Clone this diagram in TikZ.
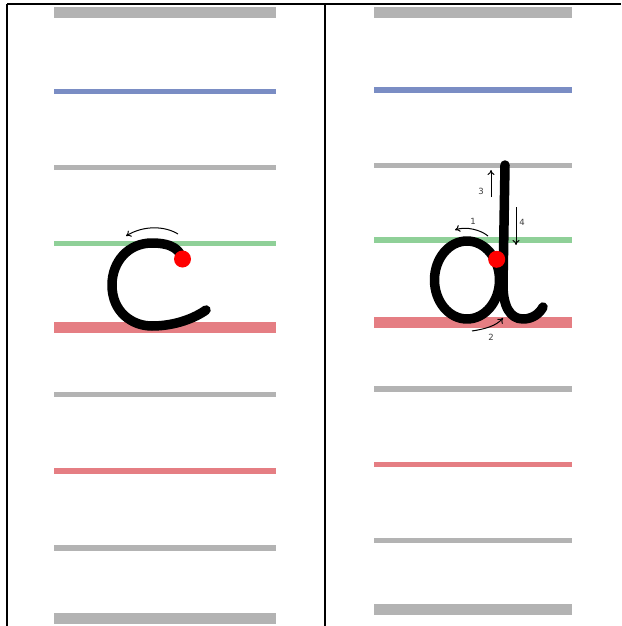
\documentclass[tikz,border=0pt]{standalone}
\usepackage{fontspec}
\setsansfont{DejaVu Sans}
\usetikzlibrary{arrows.meta}
\definecolor{lgray}{RGB}{179,179,179}
\definecolor{lblue}{RGB}{122,141,196}
\definecolor{lgreen}{RGB}{143,208,152}
\definecolor{lred}{RGB}{229,126,131}
\definecolor{txtgray}{RGB}{60,60,60}
\begin{document}
\begin{tikzpicture}[x=1pt,y=-1pt,
  thinrule/.style={line width=5.5pt},
  thickrule/.style={line width=11.5pt},
  frame/.style={line width=2pt,black},
  letter/.style={line width=9.5pt,black,line cap=round,line join=round},
  startdot/.style={circle,fill=red,inner sep=0pt,minimum size=17pt},
  hint/.style={line width=1pt,black,-{To[length=5pt,width=7pt]}},
  num/.style={font=\fontsize{8.5}{8.5}\sffamily,text=txtgray,inner sep=0pt}]
\useasboundingbox (0,0) rectangle (621,626);
% frame
\draw[frame] (7,4) -- (621,4);
\draw[frame] (7,4) -- (7,626);
\draw[frame] (325,4) -- (325,626);
% left panel rules
\draw[thickrule,lgray] (54,12.5) -- (276,12.5);
\draw[thinrule,lblue] (54,91.5) -- (276,91.5);
\draw[thinrule,lgray] (54,167.3) -- (276,167.3);
\draw[thinrule,lgreen] (54,243.5) -- (276,243.5);
\draw[thickrule,lred] (54,327.5) -- (276,327.5);
\draw[thinrule,lgray] (54,394.5) -- (276,394.5);
\draw[thinrule,lred] (54,471) -- (276,471);
\draw[thinrule,lgray] (54,548) -- (276,548);
\draw[thickrule,lgray] (54,618.3) -- (276,618.3);
% right panel rules
\draw[thickrule,lgray] (374,12.5) -- (572,12.5);
\draw[thinrule,lblue] (374,90) -- (572,90);
\draw[thinrule,lgray] (374,165.3) -- (572,165.3);
\draw[thinrule,lgreen] (374,239.8) -- (572,239.8);
\draw[thickrule,lred] (374,322.7) -- (572,322.7);
\draw[thinrule,lgray] (374,388.8) -- (572,388.8);
\draw[thinrule,lred] (374,464.5) -- (572,464.5);
\draw[thinrule,lgray] (374,540.5) -- (572,540.5);
\draw[thickrule,lgray] (374,609.3) -- (572,609.3);
% letter c
\draw[letter] (182,262) .. controls (182,250) and (172,243) .. (152,243)
  .. controls (128,243) and (112,262) .. (112,285)
  .. controls (112,312) and (132,326) .. (152,326)
  .. controls (175,326) and (195,318) .. (206,310);
\node[startdot] (cdot) at (182.5,259) {};
\coordinate (ca) at (178,234);
\coordinate (cb) at (126,236);
\draw[hint] (ca) .. controls (165,226) and (144,225) .. (cb);
% letter d
\draw[letter] (467,280) ellipse [x radius=32.5, y radius=39];
\draw[letter] (505,165) -- (503,285) .. controls (503,306) and (510,319) .. (523,319)
  .. controls (533,319) and (540,313) .. (543,307);
\node[startdot] (ddot) at (496.7,259.3) {};
% hints on d
\coordinate (a1s) at (488,236);
\coordinate (a1e) at (455,230);
\draw[hint] (a1s) .. controls (481,230) and (466,226) .. (a1e);
\node[num] (n1) at (473,221) {1};
\coordinate (a2s) at (472,331);
\coordinate (a2e) at (503,318);
\draw[hint] (a2s) .. controls (485,329) and (496,326) .. (a2e);
\node[num] (n2) at (491,337) {2};
\coordinate (a3s) at (491,197);
\coordinate (a3e) at (491,170);
\draw[hint] (a3s) -- (a3e);
\node[num] (n3) at (481,191) {3};
\coordinate (a4s) at (516,207);
\coordinate (a4e) at (516,245);
\draw[hint] (a4s) -- (a4e);
\node[num] (n4) at (522,222) {4};
\end{tikzpicture}
\end{document}
